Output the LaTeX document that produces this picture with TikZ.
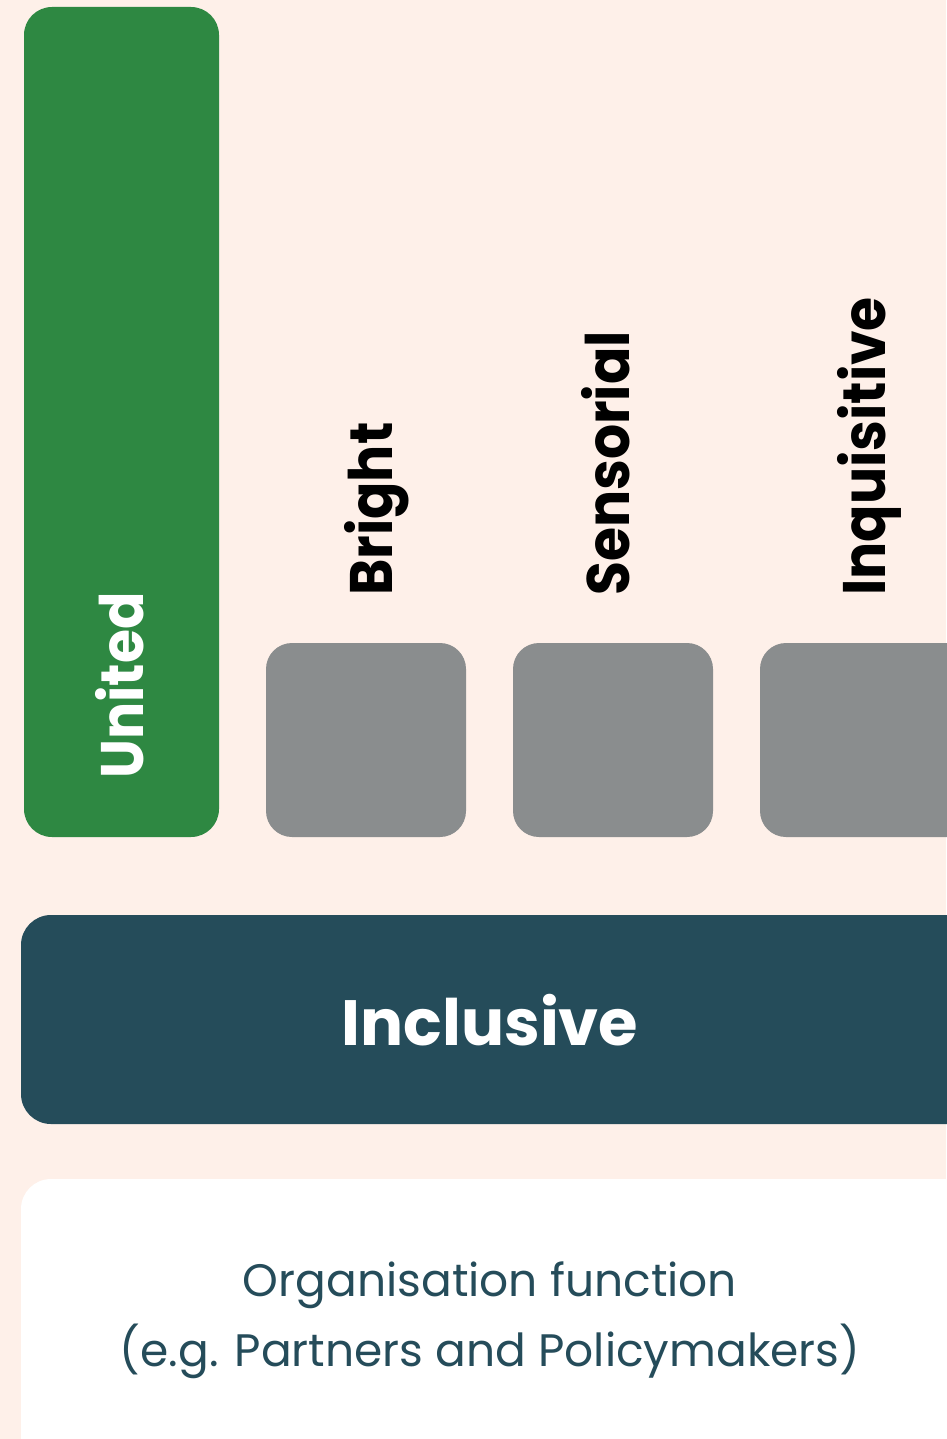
\documentclass[tikz,border=0pt]{standalone}
\usepackage{fontspec}
\setmainfont{Poppins}
\definecolor{bg}{HTML}{FEF0E9}
\definecolor{grn}{HTML}{2E8842}
\definecolor{gry}{HTML}{8A8D8E}
\definecolor{dark}{HTML}{254C5A}
\newcommand{\narrow}[1]{\scalebox{0.92}[1]{#1}}
\begin{document}
\begin{tikzpicture}[x=1pt,y=-1pt,
  tile/.style={rounded corners=26pt},
  vlab/.style={rotate=90,anchor=base west,inner sep=0pt,font=\fontsize{60}{60}\selectfont\bfseries},
]
\useasboundingbox (0,0) rectangle (946,1439);
\fill[bg] (0,0) rectangle (946,1439);
\fill[grn,rounded corners=28pt] (24,7) rectangle (219,837);
\fill[gry,tile] (266,643) rectangle (466,837);
\fill[gry,tile] (513,643) rectangle (713,837);
\fill[gry,tile] (760,643) rectangle (980,837);
\fill[dark,rounded corners=30pt] (21,915) rectangle (990,1124);
\fill[white,rounded corners=30pt] (21,1179) rectangle (990,1480);
\node[vlab,text=white] (united) at (143,779) {\narrow{United}};
\node[vlab] (bright) at (392,596) {\narrow{Bright}};
\node[vlab] (sens) at (629,596) {\narrow{Sensorial}};
\node[vlab] (inq) at (885,596) {\narrow{Inquisitive}};
\node[text=white,font=\fontsize{64}{64}\selectfont\bfseries] (incl) at (490,1020) {Inclusive};
\node[text=dark,align=center,font=\fontsize{45.5}{70}\selectfont] (org) at (490,1320) {Organisation function\\(e.g. Partners and Policymakers)};
\end{tikzpicture}
\end{document}
